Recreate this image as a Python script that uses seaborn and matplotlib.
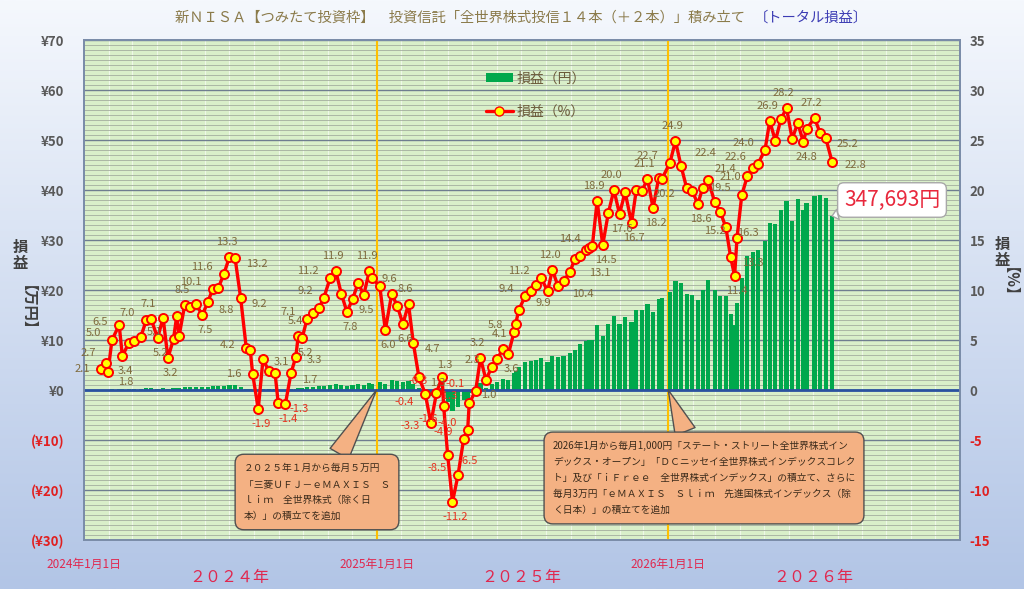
import numpy as np
import pandas as pd
import matplotlib
matplotlib.use('Agg')
import matplotlib.pyplot as plt
import matplotlib.dates as mdates
import matplotlib.transforms as mtransforms
from matplotlib.colors import LinearSegmentedColormap
from matplotlib.patches import Patch
from matplotlib.lines import Line2D
import seaborn as sns

# 記録日
dates = [
    '2024-01-22', '2024-01-28', '2024-01-31', '2024-02-05', '2024-02-14', '2024-02-18', '2024-02-26',
    '2024-03-04', '2024-03-12', '2024-03-19', '2024-03-25', '2024-04-02', '2024-04-09', '2024-04-15',
    '2024-04-22', '2024-04-26', '2024-04-29', '2024-05-06', '2024-05-13', '2024-05-20', '2024-05-28',
    '2024-06-04', '2024-06-10', '2024-06-17', '2024-06-24', '2024-07-01', '2024-07-08', '2024-07-15',
    '2024-07-22', '2024-07-27', '2024-07-30', '2024-08-06', '2024-08-12', '2024-08-19', '2024-08-27',
    '2024-08-31', '2024-09-09', '2024-09-16', '2024-09-22', '2024-09-25', '2024-09-30', '2024-10-06',
    '2024-10-14', '2024-10-21', '2024-10-27', '2024-11-04', '2024-11-11', '2024-11-18', '2024-11-25',
    '2024-12-02', '2024-12-09', '2024-12-16', '2024-12-23', '2024-12-26',
    '2025-01-05', '2025-01-12', '2025-01-20', '2025-01-27', '2025-02-03', '2025-02-10', '2025-02-16',
    '2025-02-23', '2025-03-03', '2025-03-10', '2025-03-17', '2025-03-24', '2025-03-26', '2025-03-31',
    '2025-04-06', '2025-04-13', '2025-04-20', '2025-04-25', '2025-04-27', '2025-05-05', '2025-05-11',
    '2025-05-18', '2025-05-25', '2025-06-01', '2025-06-08', '2025-06-15', '2025-06-22', '2025-06-24',
    '2025-06-28', '2025-07-06', '2025-07-13', '2025-07-19', '2025-07-26', '2025-08-03', '2025-08-09',
    '2025-08-16', '2025-08-23', '2025-08-31', '2025-09-06', '2025-09-13', '2025-09-20', '2025-09-24',
    '2025-09-28', '2025-10-04', '2025-10-11', '2025-10-18', '2025-10-25', '2025-11-01', '2025-11-08',
    '2025-11-16', '2025-11-22', '2025-11-29', '2025-12-06', '2025-12-13', '2025-12-20', '2025-12-24',
    '2026-01-03', '2026-01-10', '2026-01-17', '2026-01-24', '2026-01-31', '2026-02-07', '2026-02-13',
    '2026-02-20', '2026-02-28', '2026-03-07', '2026-03-14', '2026-03-20', '2026-03-25', '2026-03-28',
    '2026-04-03', '2026-04-10', '2026-04-17', '2026-04-23', '2026-05-02', '2026-05-08', '2026-05-15',
    '2026-05-22', '2026-05-29', '2026-06-05', '2026-06-12', '2026-06-19', '2026-06-23', '2026-07-03',
    '2026-07-10', '2026-07-17', '2026-07-25',
]

# 損益（%）
pct = [
    2.1, 2.7, 1.8, 5.0, 6.5, 3.4, 4.7,
    4.9, 5.3, 7.0, 7.1, 5.2, 7.2, 3.2,
    5.1, 7.4, 5.4, 8.5, 8.3, 8.6, 7.5,
    8.8, 10.1, 10.2, 11.6, 13.3, 13.2, 9.2,
    4.2, 4.0, 1.6, -1.9, 3.1, 1.9, 1.7,
    -1.3, -1.4, 1.7, 3.3, 5.4, 5.2, 7.1,
    7.7, 8.2, 9.2, 11.2, 11.9, 9.6, 7.8,
    9.1, 10.7, 9.5, 11.9, 11.2,
    10.4, 6.0, 9.6, 8.4, 6.6, 8.6, 4.7,
    1.3, -0.4, -3.3, -0.3, 1.3, -1.6, -6.5,
    -11.2, -8.5, -4.9, -4.0, -1.3, -0.1, 3.2,
    1.0, 2.3, 3.1, 4.1, 3.6, 5.8, 6.6,
    8.0, 9.4, 9.9, 10.5, 11.2, 9.9, 12.0,
    10.4, 10.9, 11.8, 13.1, 13.4, 14.0, 14.2,
    14.4, 18.9, 14.5, 17.7, 20.0, 17.6, 19.8,
    16.7, 20.0, 19.9, 21.1, 18.2, 21.2, 21.1,
    22.7, 24.9, 22.4, 20.2, 19.9, 18.6, 20.2,
    21.0, 18.8, 17.8, 16.3, 13.3, 11.4, 15.2,
    19.5, 21.4, 22.2, 22.6, 24.0, 26.9, 24.9,
    27.1, 28.2, 25.1, 26.7, 24.8, 26.1, 27.2,
    25.7, 25.2, 22.8,
]

# 損益（万円）
profit = [
    0.1, 0.1, 0.1, 0.2, 0.3, 0.2, 0.3,
    0.3, 0.3, 0.4, 0.4, 0.3, 0.5, 0.2,
    0.4, 0.5, 0.4, 0.6, 0.6, 0.7, 0.6,
    0.7, 0.8, 0.8, 0.9, 1.0, 1.0, 0.7,
    0.3, 0.3, 0.1, -0.2, 0.3, 0.2, 0.2,
    -0.1, -0.1, 0.2, 0.3, 0.5, 0.5, 0.7,
    0.7, 0.8, 0.9, 1.1, 1.2, 1.0, 0.8,
    1.0, 1.2, 1.1, 1.4, 1.3,
    1.6, 1.3, 2.0, 1.9, 1.7, 1.8, 1.3,
    0.4, -0.1, -1.1, -0.1, 0.4, -0.6, -2.4,
    -4.2, -3.3, -2.0, -1.7, -0.6, -0.1, 1.5,
    0.5, 1.2, 1.7, 2.3, 2.1, 3.4, 3.9,
    4.7, 5.6, 5.9, 6.1, 6.4, 5.7, 6.8,
    6.7, 6.9, 7.5, 8.1, 9.2, 9.9, 10.0,
    10.1, 13.1, 10.8, 13.2, 14.9, 13.2, 14.7,
    13.6, 16.1, 16.0, 17.2, 15.7, 18.3, 18.4,
    19.7, 21.8, 21.5, 19.3, 19.1, 18.0, 20.0,
    22.1, 20.0, 18.8, 18.8, 15.2, 13.0, 17.5,
    22.5, 26.8, 27.7, 28.1, 29.9, 33.5, 33.2,
    36.1, 37.8, 33.9, 38.3, 36.0, 37.5, 38.9,
    39.1, 38.5, 34.8,
]

latest_profit_yen = 347693

# データラベルを表示する日
label_dates = [
    '2024-01-22', '2024-01-28', '2024-01-31', '2024-02-05', '2024-02-14', '2024-02-18', '2024-03-19',
    '2024-03-25', '2024-04-02', '2024-04-15', '2024-04-22', '2024-05-06', '2024-05-28', '2024-06-04',
    '2024-06-10', '2024-06-24', '2024-07-01', '2024-07-08', '2024-07-15', '2024-07-22', '2024-07-30',
    '2024-08-06', '2024-08-12', '2024-08-31', '2024-09-09', '2024-09-16', '2024-09-22', '2024-09-25',
    '2024-09-30', '2024-10-06', '2024-10-27', '2024-11-04', '2024-11-11', '2024-11-25', '2024-12-16',
    '2024-12-23', '2025-01-12', '2025-01-20', '2025-02-03', '2025-02-10', '2025-02-16', '2025-02-23',
    '2025-03-03', '2025-03-10', '2025-03-17', '2025-03-24', '2025-03-26', '2025-03-31', '2025-04-06',
    '2025-04-13', '2025-04-20', '2025-04-25', '2025-04-27', '2025-05-05', '2025-05-11', '2025-05-18',
    '2025-05-25', '2025-06-08', '2025-06-15', '2025-06-22', '2025-07-06', '2025-07-26', '2025-08-03',
    '2025-08-09', '2025-08-16', '2025-09-06', '2025-09-28', '2025-10-04', '2025-10-11', '2025-10-25',
    '2025-11-01', '2025-11-16', '2025-12-06', '2025-12-13', '2026-01-03', '2026-01-10', '2026-01-17',
    '2026-01-24', '2026-02-07', '2026-02-20', '2026-03-14', '2026-03-20', '2026-03-25', '2026-03-28',
    '2026-04-03', '2026-04-10', '2026-04-23', '2026-05-02', '2026-05-08', '2026-05-29', '2026-06-19',
    '2026-07-03', '2026-07-17', '2026-07-25',
]

# 個別のラベル位置（オフセット pt, 水平揃え）
label_offsets = {
    '2024-01-22': ((-8, 0), 'right'),
    '2024-01-28': ((-7, 7), 'right'),
    '2024-01-31': ((7, -7), 'left'),
    '2024-02-14': ((-8, 2), 'right'),
    '2024-06-04': ((8, -6), 'left'),
    '2024-07-22': ((-8, 2), 'right'),
    '2024-07-30': ((-8, 0), 'right'),
    '2024-08-12': ((8, -2), 'left'),
    '2024-09-16': ((8, -5), 'left'),
    '2024-09-22': ((8, -2), 'left'),
    '2025-03-03': ((-8, -6), 'right'),
    '2025-03-10': ((-8, -2), 'right'),
    '2025-03-17': ((-6, 9), 'right'),
    '2025-03-24': ((2, 9), 'center'),
    '2025-03-26': ((-4, -9), 'right'),
    '2025-07-26': ((-8, 5), 'right'),
    '2025-08-03': ((-3, -9), 'center'),
    '2025-08-16': ((10, -6), 'left'),
    '2025-09-06': ((10, -10), 'left'),
    '2026-01-17': ((10, 9), 'left'),
    '2026-01-24': ((-8, -4), 'right'),
    '2026-02-20': ((8, 2), 'left'),
}

year_starts = ['2024-01-01', '2025-01-01', '2026-01-01']
year_start_labels = ['2024年1月1日', '2025年1月1日', '2026年1月1日']
year_mids = ['2024-07-01', '2025-07-01', '2026-07-01']
year_labels = ['２０２４年', '２０２５年', '２０２６年']

title_main = '新ＮＩＳＡ【つみたて投資枠】　投資信託「全世界株式投信１４本（＋２本）」積み立て'
title_sub = '〔トータル損益〕'
note_2025 = ('２０２５年１月から毎月５万円\n「三菱ＵＦＪ－ｅＭＡＸＩＳ　Ｓ\n'
             'ｌｉｍ　全世界株式（除く日\n本）」の積立てを追加')
note_2026 = ('2026年1月から毎月1,000円「ステート・ストリート全世界株式イン\n'
             'デックス・オープン」「ＤＣニッセイ全世界株式インデックスコレク\n'
             'ト」及び「ｉＦｒｅｅ　全世界株式インデックス」の積立て、さらに\n'
             '毎月3万円「ｅＭＡＸＩＳ　Ｓｌｉｍ　先進国株式インデックス（除\n'
             'く日本）」の積立てを追加')

df = pd.DataFrame({'date': pd.to_datetime(dates), 'pct': pct, 'profit': profit})

sns.set_theme(style='white')
plt.rcParams['font.family'] = ['Noto Sans CJK JP', 'DejaVu Sans']

fig = plt.figure(figsize=(10.24, 5.89), dpi=100)

# 背景グラデーション
bg = fig.add_axes([0, 0, 1, 1], zorder=-10)
bg.imshow(np.linspace(0, 1, 256).reshape(-1, 1), aspect='auto',
          cmap=LinearSegmentedColormap.from_list('bg', ['#f5f8fd', '#b2c5e6']),
          extent=[0, 1, 0, 1])
bg.axis('off')

ax = fig.add_axes([84 / 1024, 49 / 589, 876 / 1024, 500 / 589])
ax.set_facecolor('#d9efc9')

ax.bar(df['date'], df['profit'], width=5.2, color='#00a84c', linewidth=0, zorder=3)

ax.set_xlim(pd.Timestamp('2024-01-01'), pd.Timestamp('2027-01-01'))
ax.set_ylim(-30, 70)
ax.set_yticks(np.arange(-30, 71, 10))
ax.set_yticks(np.arange(-30, 71, 1), minor=True)
ax.xaxis.set_minor_locator(mdates.MonthLocator())
ax.set_xticks(pd.to_datetime(year_starts))
ax.set_xticklabels(year_start_labels)
ax.grid(which='minor', axis='x', color='#eef8e8', lw=0.8)
ax.grid(which='minor', axis='y', color='#a4ae9f', lw=0.6)
ax.grid(which='major', axis='y', color='#6f7d90', lw=1.0)
ax.grid(which='major', axis='x', visible=False)
ax.set_axisbelow(True)

ylabels = []
for v in np.arange(-30, 71, 10):
    ylabels.append(f'¥{v}' if v >= 0 else f'(¥{-v})')
ax.set_yticklabels(ylabels)
for t, v in zip(ax.get_yticklabels(), np.arange(-30, 71, 10)):
    t.set_color('#e02020' if v < 0 else '#595959')
    t.set_fontweight('bold')
ax.tick_params(axis='y', which='both', length=0, labelsize=9.5, pad=14)
ax.tick_params(axis='x', which='both', length=0, labelsize=8.5, pad=13, labelcolor='#e0284f')

for d in year_starts[1:]:
    ax.axvline(pd.Timestamp(d), color='#ffc000', lw=1.5, zorder=2.6)
ax.axhline(0, color='#2a52a0', lw=2, zorder=3.5)

for s in ax.spines.values():
    s.set_color('#7a8ca8')

trans = mtransforms.blended_transform_factory(ax.transData, ax.transAxes)
for d, lab in zip(year_mids, year_labels):
    ax.text(pd.Timestamp(d), -0.075, lab, transform=trans, ha='center', va='center',
            color='#e0284f', fontsize=11.5)

# 右軸（%）
ax2 = ax.twinx()
ax2.set_ylim(-15, 35)
ax2.set_yticks(np.arange(-15, 36, 5))
ax2.set_yticklabels([str(v) for v in np.arange(-15, 36, 5)])
for t, v in zip(ax2.get_yticklabels(), np.arange(-15, 36, 5)):
    t.set_color('#e02020' if v < 0 else '#595959')
    t.set_fontweight('bold')
ax2.tick_params(axis='y', length=0, labelsize=9.5, pad=7)
ax2.grid(False)
for s in ax2.spines.values():
    s.set_color('#7a8ca8')

sns.lineplot(data=df, x='date', y='pct', ax=ax2, color='#ff0000', lw=2.4,
             marker='o', markersize=6.5, markerfacecolor='#ffff00',
             markeredgecolor='#ff0000', markeredgewidth=1.4, zorder=5)
ax2.set_xlabel('')
ax2.set_ylabel('')
ax.set_xlabel('')
ax.set_ylabel('')

# データラベル
label_set = set(label_dates)
n = len(df)
for i in range(n):
    if dates[i] not in label_set:
        continue
    v = pct[i]
    prev = pct[i - 1] if i > 0 else v
    nxt = pct[i + 1] if i < n - 1 else v
    va = 'center'
    if dates[i] in label_offsets:
        off, ha = label_offsets[dates[i]]
    elif i == n - 1:
        off, ha = (9, -2), 'left'
    elif v >= prev and v >= nxt:
        off, ha, va = (-2, 7), 'center', 'bottom'
    elif v <= prev and v <= nxt:
        off, ha, va = (2, -7), 'center', 'top'
    elif v > prev:
        off, ha = (-8, 5), 'right'
    else:
        off, ha = (8, -4), 'left'
    ax2.annotate(f'{v:.1f}', xy=(df['date'][i], v), xytext=off, textcoords='offset points',
                 ha=ha, va=va, fontsize=8, zorder=6,
                 color='#e8321e' if v < 0 else '#7f6b3d')

# 凡例
handles = [Patch(facecolor='#00a84c', edgecolor='none'),
           Line2D([0], [0], color='#ff0000', lw=2.4, marker='o', markersize=6.5,
                  markerfacecolor='#ffff00', markeredgecolor='#ff0000')]
fig.legend(handles, ['損益（円）', '損益（%）'], loc='upper left',
           bbox_to_anchor=(0.462, 0.9), frameon=False, labelspacing=1.4,
           handlelength=2.0, handletextpad=0.2, fontsize=10, labelcolor='#6b5a3a')

# タイトル
fig.text(0.728, 0.97, title_main, ha='right', va='center', color='#8b7b4b', fontsize=10.3)
fig.text(0.736, 0.97, title_sub, ha='left', va='center', color='#3c3cb4', fontsize=10.3)

# 軸タイトル（縦書き）
fig.text(20 / 1024, 1 - 255 / 589, '損\n益', ha='center', va='center', fontsize=11,
         fontweight='bold', color='#404040', linespacing=1.05)
fig.text(20 / 1024, 1 - 315 / 589, '【万円】', ha='center', va='center', fontsize=11,
         fontweight='bold', color='#404040', rotation=270)
fig.text(1002 / 1024, 1 - 252 / 589, '損\n益', ha='center', va='center', fontsize=11,
         fontweight='bold', color='#404040', linespacing=1.05)
fig.text(1002 / 1024, 1 - 290 / 589, '【%】', ha='center', va='center', fontsize=11,
         fontweight='bold', color='#404040', rotation=270)

# 吹き出し
box = dict(boxstyle='round,pad=0.9,rounding_size=0.9', fc='#f4b183', ec='#505050', lw=1)
ax.annotate(note_2025, xy=(pd.Timestamp('2025-01-01'), 0), xytext=(317 / 1024, 1 - 492 / 589),
            textcoords='figure fraction', ha='center', va='center', multialignment='left',
            fontsize=7, color='#3a2a1a', linespacing=1.75, bbox=box, zorder=8,
            arrowprops=dict(arrowstyle='wedge,tail_width=2.2', fc='#f4b183', ec='#505050',
                            shrinkA=0, shrinkB=0))
ax.annotate(note_2026, xy=(pd.Timestamp('2026-01-01'), 0), xytext=(704 / 1024, 1 - 478 / 589),
            textcoords='figure fraction', ha='center', va='center', multialignment='left',
            fontsize=7, color='#3a2a1a', linespacing=1.75, bbox=box, zorder=8,
            arrowprops=dict(arrowstyle='wedge,tail_width=2.2', fc='#f4b183', ec='#505050',
                            shrinkA=0, shrinkB=0))

ax.annotate(f'{latest_profit_yen:,}円', xy=(df['date'].iloc[-1], profit[-1]),
            xytext=(892 / 1024, 1 - 200 / 589),
            textcoords='figure fraction', ha='center', va='center', fontsize=15,
            color='#e8283c', zorder=9,
            bbox=dict(boxstyle='round,pad=0.3', fc='white', ec='#a8a8a8'),
            arrowprops=dict(arrowstyle='wedge,tail_width=0.5', fc='white', ec='#a8a8a8',
                            shrinkA=0, shrinkB=0))

fig.savefig('out.png', dpi=100)
